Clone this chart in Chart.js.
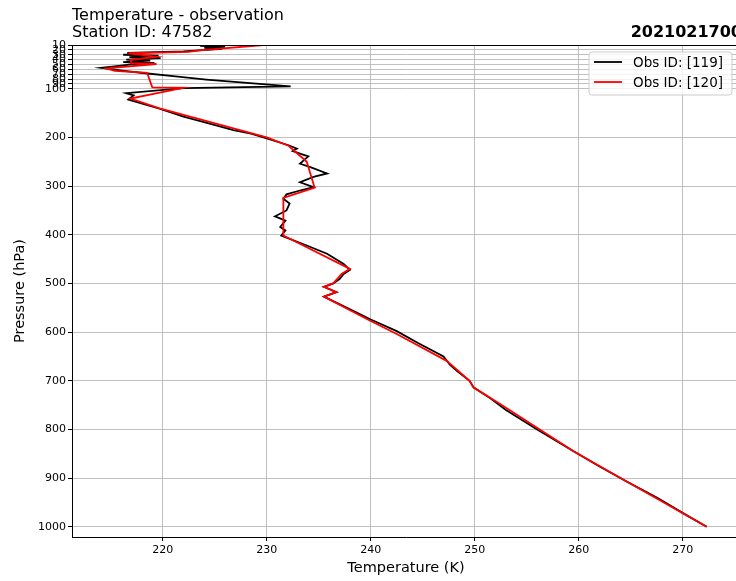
<!DOCTYPE html>
<html><head><meta charset="utf-8">
<script src="https://cdn.jsdelivr.net/npm/chart.js@4.4.0/dist/chart.umd.min.js"></script>
<style>html,body{margin:0;padding:0;overflow:hidden;background:#fff;width:736px;height:581px}canvas{display:block}</style>
</head><body><canvas id="c" width="744" height="581"></canvas>
<script>
// Obs ID 119 (black)
const tempBlack = [225.5,223.6,226.0,224.0,225.7,224.3,222.0,216.6,218.0,216.2,219.6,216.8,219.8,216.5,218.8,216.2,219.2,217.0,215.8,214.1,216.3,218.1,221.0,224.2,228.1,232.3,222.0,216.5,217.2,216.7,219.7,222.0,224.6,226.8,228.5,230.0,232.1,232.9,232.5,233.2,234.0,233.6,233.2,234.2,235.8,234.5,233.2,234.5,233.2,231.9,231.6,232.2,231.9,230.8,231.8,231.3,231.8,231.4,233.85,235.8,237.4,238.0,237.4,237.0,236.4,235.5,236.7,235.5,238.65,240.0,242.5,244.5,247.0,247.6,248.3,249.5,249.9,251.5,253.0,256.0,259.5,262.0,264.6,267.5,270.1,272.3];
const presBlack = [10,12,14,16,18,20,23,26,28,30,32,35,37,40,42,45,47,50,53,57,63,67.5,74,81,88,95,98.5,109,113.5,122,141,157,172,185,192,202,216,223,228,233,239,246,254,261,274,281,292,302,309,317,326,336,350,362,371,384,391,401.5,422,439,460,472,480.5,491,500,507,518,527,560,574,598,622,650,667,680,700,714,736,760,800,845,876,907,940,973,1000];
// Obs ID 120 (red)
const tempRed = [229.7,223.5,222.5,216.7,219.4,216.9,217.0,219.4,214.6,215.4,218.5,219.0,222.0,216.9,219.7,230.0,232.1,233.85,234.6,231.6,231.6,238.0,237.2,236.4,235.5,236.7,235.5,240.0,242.5,247.3,249.5,249.9,252.4,259.5,264.6,272.3];
const presRed = [10,21,24,27,34,41,47.5,49,58,63,67,97,98,120,140,200,217,250,303,324,401.5,470,480.5,500,507,518,527,577,604,659,700,714,747,845,907,1000];

const xTicks = [220,230,240,250,260,270];
const yTicks = [10,20,30,40,50,60,70,80,90,100,200,300,400,500,600,700,800,900,1000];
const seriesLabels = ['Obs ID: [119]','Obs ID: [120]'];
const seriesColors = ['#000000','#ff0000'];
const titleLeft = ['Temperature - observation','Station ID: 47582'];
const titleRight = '2021021700';
const xTitle = 'Temperature (K)';
const yTitle = 'Pressure (hPa)';

const FONT = "'DejaVu Sans', sans-serif";

const decor = {
  id: 'decor',
  afterDraw(chart) {
    const ctx = chart.ctx, a = chart.chartArea;
    ctx.save();
    ctx.strokeStyle = '#000'; ctx.lineWidth = 1;
    ctx.beginPath();
    ctx.moveTo(a.left, a.top + 0.5); ctx.lineTo(a.right, a.top + 0.5);
    ctx.moveTo(a.right - 0.5, a.top); ctx.lineTo(a.right - 0.5, a.bottom);
    ctx.stroke();
    ctx.fillStyle = '#000';
    ctx.textBaseline = 'alphabetic';
    ctx.font = '16px ' + FONT;
    ctx.textAlign = 'left';
    ctx.fillText(titleLeft[0], a.left, 20);
    ctx.fillText(titleLeft[1], a.left, 37);
    ctx.font = 'bold 16px ' + FONT;
    ctx.textAlign = 'right';
    ctx.fillText(titleRight, a.right + 2, 37);
    const bx = 589, by = 52, bw = 143, bh = 43, r = 3;
    ctx.beginPath();
    ctx.moveTo(bx + r, by); ctx.lineTo(bx + bw - r, by); ctx.arcTo(bx + bw, by, bx + bw, by + r, r);
    ctx.lineTo(bx + bw, by + bh - r); ctx.arcTo(bx + bw, by + bh, bx + bw - r, by + bh, r);
    ctx.lineTo(bx + r, by + bh); ctx.arcTo(bx, by + bh, bx, by + bh - r, r);
    ctx.lineTo(bx, by + r); ctx.arcTo(bx, by, bx + r, by, r);
    ctx.closePath();
    ctx.fillStyle = 'rgba(255,255,255,0.8)'; ctx.fill();
    ctx.strokeStyle = '#cccccc'; ctx.lineWidth = 1; ctx.stroke();
    ctx.font = '13.5px ' + FONT;
    ctx.textAlign = 'left'; ctx.textBaseline = 'middle';
    const rows = [62, 82];
    for (let i = 0; i < 2; i++) {
      ctx.strokeStyle = seriesColors[i]; ctx.lineWidth = 1.8;
      ctx.beginPath(); ctx.moveTo(594, rows[i]); ctx.lineTo(622, rows[i]); ctx.stroke();
      ctx.fillStyle = '#000';
      ctx.fillText(seriesLabels[i], 633, rows[i] + 1);
    }
    ctx.restore();
  }
};

new Chart(document.getElementById('c'), {
  type: 'scatter',
  data: {
    datasets: [
      { label: seriesLabels[0], data: tempBlack.map((t, i) => ({x: t, y: presBlack[i]})),
        showLine: true, borderColor: seriesColors[0], backgroundColor: seriesColors[0],
        borderWidth: 1.8, pointRadius: 0, tension: 0, order: 1 },
      { label: seriesLabels[1], data: tempRed.map((t, i) => ({x: t, y: presRed[i]})),
        showLine: true, borderColor: seriesColors[1], backgroundColor: seriesColors[1],
        borderWidth: 1.8, pointRadius: 0, tension: 0, order: 0 }
    ]
  },
  options: {
    responsive: false, animation: false, devicePixelRatio: 1,
    layout: { padding: { top: 45, right: 4, left: 0, bottom: 0 } },
    plugins: { legend: { display: false }, tooltip: { enabled: false }, title: { display: false } },
    scales: {
      x: {
        type: 'linear', min: 211.28, max: 275.5,
        afterBuildTicks: s => { s.ticks = xTicks.map(v => ({value: v})); },
        afterFit: s => { s.height = 44; },
        grid: { color: '#b0b0b0', lineWidth: 0.8, tickColor: '#000', tickLength: 4, tickWidth: 1 },
        border: { display: true, color: '#000', width: 1 },
        ticks: { color: '#000', font: { family: FONT, size: 11 }, padding: 3, maxRotation: 0, autoSkip: false, callback: v => String(v) },
        title: { display: true, text: xTitle, color: '#000', font: { family: FONT, size: 14.5 }, padding: { top: 4, bottom: 4 } }
      },
      y: {
        type: 'linear', reverse: true, min: 10, max: 1021,
        afterBuildTicks: s => { s.ticks = yTicks.map(v => ({value: v})); },
        afterFit: s => { s.width = 72; },
        grid: { color: '#b0b0b0', lineWidth: 0.8, tickColor: '#000', tickLength: 4, tickWidth: 1 },
        border: { display: true, color: '#000', width: 1 },
        ticks: { color: '#000', font: { family: FONT, size: 11 }, padding: 2, autoSkip: false, callback: v => String(v) },
        title: { display: true, text: yTitle, color: '#000', font: { family: FONT, size: 14.5 }, padding: { top: 12, bottom: 0 } }
      }
    }
  },
  plugins: [decor]
});
</script>
</body></html>
